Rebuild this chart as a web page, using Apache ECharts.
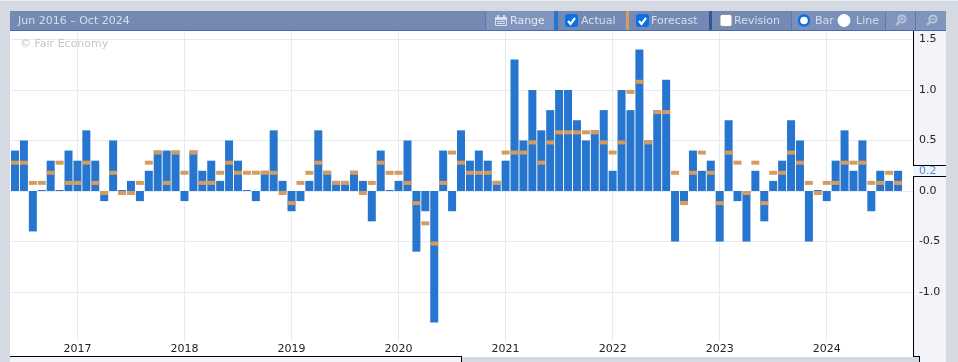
<!DOCTYPE html>
<html>
<head>
<meta charset="utf-8">
<title>Jun 2016 - Oct 2024</title>
<style>
    html, body { margin: 0; padding: 0; background: #ffffff; }
    #chart { width: 958px; height: 362px; }
</style>
<script src="https://cdn.jsdelivr.net/npm/echarts@6/dist/echarts.min.js"></script>
</head>
<body>
<div id="chart"></div>
<script>
const actual = [
    0.4, 0.5, -0.4, 0, 0.3, 0, 0.4, 0.3, 0.6, 0.3, -0.1, 0.5, 0, 0.1, -0.1, 0.2, 0.4, 0.4, 0.4,
    -0.1, 0.4, 0.2, 0.3, 0.1, 0.5, 0.3, 0, -0.1, 0.2, 0.6, 0.1, -0.2, -0.1, 0.1, 0.6, 0.2, 0.1,
    0.1, 0.2, 0.1, -0.3, 0.4, 0, 0.1, 0.5, -0.6, -0.2, -1.3, 0.4, -0.2, 0.6, 0.3, 0.4, 0.3, 0.1,
    0.3, 1.3, 0.5, 1.0, 0.6, 0.8, 1.0, 1.0, 0.7, 0.5, 0.6, 0.8, 0.2, 1.0, 0.8, 1.4, 0.5, 0.8,
    1.1, -0.5, -0.1, 0.4, 0.2, 0.3, -0.5, 0.7, -0.1, -0.5, 0.2, -0.3, 0.1, 0.3, 0.7, 0.5, -0.5,
    0, -0.1, 0.3, 0.6, 0.2, 0.5, -0.2, 0.2, 0.1, 0.2
];
const forecast = [
    0.3, 0.3, 0.1, 0.1, 0.2, 0.3, 0.1, 0.1, 0.3, 0.1, 0, 0.2, 0, 0, 0.1, 0.3, 0.4, 0.1, 0.4,
    0.2, 0.4, 0.1, 0.1, 0.2, 0.3, 0.2, 0.2, 0.2, 0.2, 0.2, 0, -0.1, 0.1, 0.2, 0.3, 0.2, 0.1,
    0.1, 0.2, 0, 0.1, 0.3, 0.2, 0.2, 0.1, -0.1, -0.3, -0.5, 0.1, 0.4, 0.3, 0.2, 0.2, 0.2, 0.1,
    0.4, 0.4, 0.4, 0.5, 0.3, 0.5, 0.6, 0.6, 0.6, 0.6, 0.6, 0.5, 0.4, 0.5, 1.0, 1.1, 0.5, 0.8,
    0.8, 0.2, -0.1, 0.2, 0.4, 0.2, -0.1, 0.4, 0.3, 0, 0.3, -0.1, 0.2, 0.2, 0.4, 0.3, 0.1,
    0, 0.1, 0.1, 0.3, 0.3, 0.3, 0.1, 0.1, 0.2, 0.1
];
const yTicks = [-1, -0.5, 0, 0.5, 1, 1.5];
const yMin = -1.4936;
const yMax = 1.5826;
const latestValue = '0.2';
const rangeLabel = 'Jun 2016 \u2013 Oct 2024';

// monthly categories, two more than the data so the axis runs on under the right panel
const categories = [];
for (let i = 0; i < 102; i++) {
    const d = new Date(Date.UTC(2016, 5 + i, 1));
    categories.push(d.getUTCFullYear() + '-' + String(d.getUTCMonth() + 1).padStart(2, '0'));
}
const isJanuary = (index) => categories[index].endsWith('-01');

const FONT = '"DejaVu Sans", Verdana, sans-serif';
const PAGE_GREY = '#d5d9e2';
const PANEL = '#f3f4f9';
const HEADER = '#7489b4';
const BUTTON = '#8094bd';
const LINE_DARK = '#5f78a9';
const BAR_BLUE = '#2675cf';
const MARK_ORANGE = '#d69c5f';
const TOOL_TEXT = '#d9deea';

function box(x, y, width, height, fill, z = 2) {
    return { type: 'rect', silent: true, z: z, shape: { x, y, width, height }, style: { fill } };
}

function label(x, y, text, fill = TOOL_TEXT, fontSize = 11) {
    return {
        type: 'text', silent: true, z: 5, x, y,
        style: { text, fill, font: fontSize + 'px ' + FONT, textAlign: 'left', textVerticalAlign: 'middle' }
    };
}

function checkbox(x, checked) {
    const items = [{
        type: 'rect', silent: true, z: 5,
        shape: { x, y: 14.5, width: 12, height: 12, r: 2 },
        style: { fill: checked ? '#0a6fe8' : '#ffffff', stroke: checked ? '#0a6fe8' : '#8a8f99', lineWidth: 1 }
    }];
    if (checked) {
        items.push({
            type: 'polyline', silent: true, z: 6,
            shape: { points: [[x + 2.5, y0(6.5)], [x + 5, y0(9.5)], [x + 9.5, y0(3.5)]] },
            style: { fill: 'none', stroke: '#ffffff', lineWidth: 2.2 }
        });
    }
    return items;
}

function y0(offset) {
    return 14.5 + offset;
}

function radio(cx, selected) {
    return [{
        type: 'circle', silent: true, z: 5,
        shape: { cx, cy: 20.5, r: selected ? 5 : 6 },
        style: { fill: '#ffffff', stroke: selected ? '#0a6fe8' : '#ffffff', lineWidth: selected ? 2.4 : 1 }
    }];
}

function magnifier(cx, plus) {
    const glass = plus ? '#b9c4da' : '#b9c4da';
    const items = [
        { type: 'circle', silent: true, z: 5, shape: { cx: cx + 1, cy: 19, r: 3.6 }, style: { fill: 'none', stroke: glass, lineWidth: 2 } },
        { type: 'line', silent: true, z: 5, shape: { x1: cx - 2, y1: 22, x2: cx - 5, y2: 25 }, style: { stroke: glass, lineWidth: 2.4 } },
        { type: 'line', silent: true, z: 5, shape: { x1: cx - 1, y1: 19, x2: cx + 3, y2: 19 }, style: { stroke: glass, lineWidth: 1.2 } }
    ];
    if (plus) {
        items.push({ type: 'line', silent: true, z: 5, shape: { x1: cx + 1, y1: 17, x2: cx + 1, y2: 21 }, style: { stroke: glass, lineWidth: 1.2 } });
    }
    return items;
}

function calendarIcon(x) {
    return [
        { type: 'rect', silent: true, z: 5, shape: { x: x + 0.5, y: 17.5, width: 11, height: 8 }, style: { fill: 'none', stroke: TOOL_TEXT, lineWidth: 1 } },
        box(x, 17, 12, 3, TOOL_TEXT, 5),
        box(x + 2, 15, 2, 3, TOOL_TEXT, 5),
        box(x + 8, 15, 2, 3, TOOL_TEXT, 5),
        box(x + 2, 21, 8, 1, TOOL_TEXT, 5),
        box(x + 2, 23, 8, 1, TOOL_TEXT, 5)
    ];
}

const frame = [
    // page surround
    box(0, 0, 958, 11, PAGE_GREY),
    box(0, 0, 958, 1, '#e9ebf0', 3),
    box(0, 11, 10, 351, PAGE_GREY),
    box(946, 11, 12, 351, PAGE_GREY),
    box(461, 357, 458, 5, PAGE_GREY),
    box(10, 357, 451, 5, PANEL),
    box(913, 31, 33, 326, PANEL),
    box(919, 357, 27, 5, PANEL),
    // black outlines of the plot and the value panel
    box(10, 356, 452, 1, '#000000', 3),
    box(461, 356, 1, 6, '#000000', 3),
    box(913, 31, 1, 134, '#000000', 3),
    box(913, 176, 1, 181, '#000000', 3),
    box(913, 165, 33, 1, '#000000', 3),
    box(913, 176, 33, 1, '#000000', 3),
    box(913, 356, 7, 1, '#000000', 3),
    box(919, 356, 1, 6, '#000000', 3),
    // toolbar
    box(10, 11, 936, 19, HEADER),
    box(10, 30, 903, 1, '#4a6aab', 3),
    box(913, 30, 33, 1, '#4a6aab', 3),
    box(486, 11, 68, 19, BUTTON, 3),
    box(792, 11, 93, 19, '#7a8fb9', 3),
    box(885, 11, 61, 19, BUTTON, 3),
    box(485, 11, 1, 19, LINE_DARK, 4),
    box(554, 11, 4, 19, BAR_BLUE, 4),
    box(626, 11, 3, 19, MARK_ORANGE, 4),
    box(709, 11, 3, 19, '#34589a', 4),
    box(791, 11, 1, 19, LINE_DARK, 4),
    box(885, 11, 1, 19, LINE_DARK, 4),
    box(915, 11, 1, 19, LINE_DARK, 4),
    label(18, 21, rangeLabel),
    ...calendarIcon(495),
    label(510, 21, 'Range', '#e6e9f1'),
    ...checkbox(565.5, true),
    label(581, 21, 'Actual'),
    ...checkbox(636.5, true),
    label(651, 21, 'Forecast'),
    ...checkbox(720, false),
    label(734, 21, 'Revision'),
    ...radio(804, true),
    label(815, 21, 'Bar'),
    ...radio(844, false),
    label(856, 21, 'Line'),
    ...magnifier(901, true),
    ...magnifier(932, false),
    // watermark and latest value tag
    label(20, 44, '\u00a9 Fair Economy', '#c6c6c6'),
    label(919, 171, latestValue, '#4a90d9')
];

const chart = echarts.init(document.getElementById('chart'), null, { renderer: 'canvas' });
chart.setOption({
    animation: false,
    backgroundColor: '#ffffff',
    textStyle: { fontFamily: FONT },
    graphic: { elements: frame },
    grid: { left: 10.54, top: 31, width: 909.84, height: 311, containLabel: false },
    xAxis: {
        type: 'category',
        data: categories,
        boundaryGap: true,
        axisLine: { show: false },
        axisTick: { show: false },
        splitLine: {
            show: true,
            alignWithLabel: true,
            interval: (index) => isJanuary(index),
            lineStyle: { color: '#e8eaf3', width: 1 }
        },
        axisLabel: {
            interval: (index) => isJanuary(index),
            formatter: (value) => value.slice(0, 4),
            color: '#222222',
            fontSize: 11,
            fontFamily: FONT,
            margin: 2,
            hideOverlap: false
        }
    },
    yAxis: [
        {
            type: 'value',
            position: 'right',
            min: yMin,
            max: yMax,
            z: 0,
            axisLine: { show: false },
            axisTick: { show: false, customValues: yTicks },
            axisLabel: { show: false, customValues: yTicks },
            splitLine: { show: true, lineStyle: { color: '#e8eaf3', width: 1 } }
        },
        {
            // labels only, sits above the value panel
            type: 'value',
            position: 'right',
            min: yMin,
            max: yMax,
            z: 6,
            axisLine: { show: false },
            axisTick: { show: false, customValues: yTicks },
            splitLine: { show: false },
            axisLabel: {
                customValues: yTicks,
                formatter: (value) => value.toFixed(1),
                color: '#222222',
                fontSize: 11,
                fontFamily: FONT,
                margin: -1.5,
                showMinLabel: true,
                showMaxLabel: true
            }
        }
    ],
    series: [
        {
            name: 'Actual',
            type: 'bar',
            data: actual,
            barWidth: 8,
            barMinHeight: 1,
            z: 1,
            itemStyle: { color: BAR_BLUE }
        },
        {
            name: 'Forecast',
            type: 'scatter',
            data: forecast,
            symbol: 'rect',
            symbolSize: [8, 4],
            symbolOffset: [0, 2],
            z: 1.5,
            itemStyle: { color: MARK_ORANGE, opacity: 1 }
        }
    ]
});
</script>
</body>
</html>
